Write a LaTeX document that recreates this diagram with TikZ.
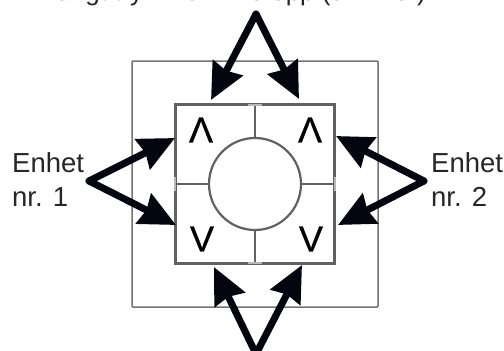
\documentclass[tikz,border=0pt]{standalone}
\usepackage{fontspec}
\setmainfont{Liberation Sans}
\newfontfamily\keyfont[FakeBold=0.7]{Liberation Sans}
\usetikzlibrary{arrows.meta}
\definecolor{frameg}{gray}{0.45}
\definecolor{panelg}{gray}{0.38}
\definecolor{tabg}{gray}{0.72}
\definecolor{inkk}{RGB}{5,5,15}
\tikzset{
  x=1pt,y=-1pt,
  framebox/.style={draw=frameg,line width=1.5pt,minimum size=246pt,inner sep=0pt,outer sep=0pt,rounded corners=1pt},
  panelbox/.style={draw=panelg,line width=2.2pt,minimum size=159pt,inner sep=0pt,outer sep=0pt},
  dialbox/.style={draw=panelg,line width=2.2pt,circle,minimum size=92pt,inner sep=0pt,outer sep=0pt},
  divider/.style={draw=panelg,line width=1.5pt},
  tabline/.style={draw=tabg,line width=1.8pt},
  pointer/.style={draw=inkk,line width=7pt,line cap=round,line join=round,
     -{Stealth[length=36pt,width=33pt,inset=3pt]}},
  sidelabel/.style={font=\fontsize{27.5}{34}\selectfont,align=left,inner sep=0pt,anchor=west,text=black!85},
  keymark/.style={font=\keyfont\fontsize{36}{36}\selectfont,inner sep=0pt,text=black}
}
\begin{document}
\begin{tikzpicture}
\useasboundingbox (0,0) rectangle (504,351);
\clip (0,0) rectangle (504,351);
\node[framebox] (outer) at (255,184) {};
\node[panelbox] (inner) at (255,184) {};
\node[dialbox] (knob) at (255,184) {};
\draw[divider] (inner.north) -- (knob.north);
\draw[divider] (inner.south) -- (knob.south);
\draw[divider] (inner.west) -- (knob.west);
\draw[divider] (inner.east) -- (knob.east);
\coordinate (tn1) at (248,105); \coordinate (tn2) at (262,105);
\coordinate (ts1) at (248,263); \coordinate (ts2) at (262,263);
\coordinate (tw1) at (175,177); \coordinate (tw2) at (175,191);
\coordinate (te1) at (335,177); \coordinate (te2) at (335,191);
\draw[tabline] (tn1) -- (tn2);
\draw[tabline] (ts1) -- (ts2);
\draw[tabline] (tw1) -- (tw2);
\draw[tabline] (te1) -- (te2);
\node[keymark] (ul) at (201,130) {Λ};
\node[keymark] (ur) at (310,130) {Λ};
\node[keymark] (ll) at (202,239) {V};
\node[keymark] (lr) at (311,239) {V};
\node[font=\fontsize{26}{26}\selectfont,inner sep=0pt,anchor=base,text=black!85] (title) at (234,0) {Langt trykk: dimme opp (dimmer)};
\node[sidelabel] (one) at (12,180) {Enhet\\nr. 1};
\node[sidelabel] (two) at (431,180) {Enhet\\nr. 2};
\coordinate (atop) at (256,14);
\coordinate (abot) at (256,354);
\coordinate (aleft) at (89,181);
\coordinate (aright) at (424,181);
\coordinate (t1) at (211,100); \coordinate (t2) at (299,99);
\coordinate (b1) at (214,267); \coordinate (b2) at (302,265);
\coordinate (l1) at (175,138); \coordinate (l2) at (176,225);
\coordinate (r1) at (336,136); \coordinate (r2) at (338,225);
\draw[pointer] (atop) -- (t1);
\draw[pointer] (atop) -- (t2);
\draw[pointer] (abot) -- (b1);
\draw[pointer] (abot) -- (b2);
\draw[pointer] (aleft) -- (l1);
\draw[pointer] (aleft) -- (l2);
\draw[pointer] (aright) -- (r1);
\draw[pointer] (aright) -- (r2);
\end{tikzpicture}
\end{document}
